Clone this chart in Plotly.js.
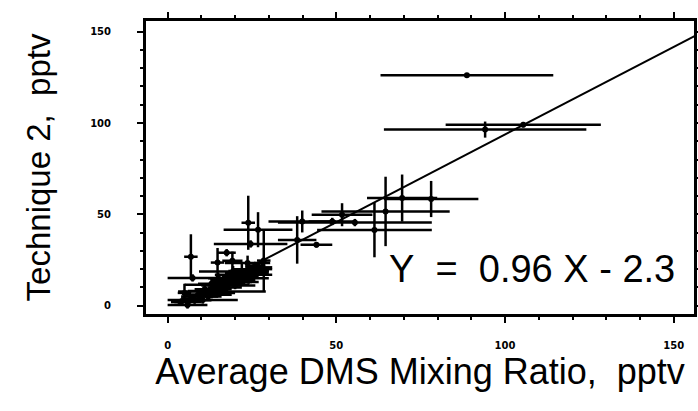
<!DOCTYPE html>
<html>
<head>
<meta charset="utf-8">
<script src="https://cdn.plot.ly/plotly-3.0.1.min.js"></script>
<style>html,body{margin:0;padding:0;background:#fff;}#chart{width:698px;height:411px;}</style>
</head>
<body>
<div id="chart"></div>
<script>
// Average DMS mixing ratio (pptv) vs Technique 2 (pptv)
const avgDMS = [88.7, 94.1, 105.4,
  69.5, 78.1, 64.6, 61.3, 55.5, 51.7, 48.8, 39.9, 38.4, 44.1,
  26.8, 23.9, 24.6, 6.9, 7.4, 19.4, 14.6, 16.1, 10.4, 5.9, 23.7, 14.8, 19.2, 28.5, 17.5,
  11, 13, 17, 18, 20, 21, 22, 24, 25, 27, 15, 9, 7, 4, 5, 26, 23, 12,
  12, 14, 16, 18, 19, 21, 22, 23, 24, 25, 26, 20, 17, 13, 8, 10, 15, 27, 28, 6];
const technique2 = [126.2, 96.4, 99.1,
  58.9, 58.4, 51.6, 41.5, 45.5, 49.8, 46.1, 46.1, 36.0, 33.3,
  41.6, 45.4, 33.8, 26.8, 15.2, 18.7, 11.4, 7.7, 3.1, 0.4, 23.4, 23.6, 24.6, 24.7, 29,
  9, 12, 14, 12, 16, 14, 19, 20, 17, 21, 15, 6, 4, 2, 7, 22, 16, 5,
  8, 9, 11, 15, 13, 17, 13, 18, 15, 19, 18, 11, 10, 6, 3, 5, 7, 19, 20, 2];
const avgDMSErr = [25.6, 30, 23,
  10.4, 14, 19, 17, 22.8, 9, 7, 10, 5.7, 4.7,
  10.2, 2, 10.9, 2, 7.4, 10.1, 9.6, 13, 10.4, 5.9, 6.7, 2, 3, 2, 2.7,
  3, 4, 4, 5, 4, 5, 4, 5, 6, 4, 3, 4, 3, 3, 2, 3, 4, 3,
  6, 5, 6, 5, 6, 7, 5, 6, 6, 5, 4, 6, 5, 6, 5, 6, 5, 3, 3, 4];
const technique2Err = [0.8, 4.4, 1.5,
  12.9, 9.9, 19, 15, 2, 6.3, 2, 6, 13, 1.5,
  9.6, 14.8, 2, 12.3, 2, 3, 3, 2, 2, 2, 4, 8, 5, 17, 2,
  3, 3, 3, 2, 3, 3, 4, 3, 3, 3, 3, 3, 2, 2, 5, 2, 2, 2,
  2, 2, 3, 2, 2, 3, 2, 2, 3, 2, 2, 2, 2, 2, 2, 2, 2, 2, 3, 2];

// Regression fit: Y = 0.96 X - 2.3
const fitSlope = 0.96;
const fitIntercept = -2.3;
const fitX = [3, 156.3];
const fitY = fitX.map(v => fitSlope * v + fitIntercept);

const xTickVals = [0, 50, 100, 150];
const yTickVals = [0, 50, 100, 150];
const xRange = [-6.7, 156.3];
const yRange = [-5.1, 156.4];

const NB = '\u00A0';
const traces = [
  {
    x: avgDMS, y: technique2, type: 'scatter', mode: 'markers',
    marker: {color: '#000', size: 6},
    error_x: {type: 'data', array: avgDMSErr, visible: true, color: '#000', thickness: 2.5, width: 0},
    error_y: {type: 'data', array: technique2Err, visible: true, color: '#000', thickness: 2.5, width: 0},
    showlegend: false, hoverinfo: 'x+y'
  },
  {
    x: fitX, y: fitY, type: 'scatter', mode: 'lines',
    line: {color: '#000', width: 2}, showlegend: false, hoverinfo: 'skip'
  }
];

const tickFont = {family: 'DejaVu Sans', size: 10, color: '#000', weight: 'bold'};
const axisCommon = {
  showline: true, linecolor: '#000', linewidth: 2, mirror: 'ticks',
  ticks: 'outside', ticklen: 6, tickwidth: 2, tickcolor: '#000',
  showgrid: false, zeroline: false, tickfont: tickFont,
  minor: {dtick: 10, ticks: 'outside', ticklen: 3, tickwidth: 2, tickcolor: '#000', showgrid: false}
};

const layout = {
  width: 698, height: 411,
  margin: {l: 145, r: 3, t: 20, b: 96},
  paper_bgcolor: '#fff', plot_bgcolor: '#fff',
  xaxis: Object.assign({}, axisCommon, {
    range: xRange, tickvals: xTickVals, ticklabelstandoff: 14,
    title: {text: 'Average DMS Mixing Ratio,' + NB + NB + 'pptv', font: {family: 'Liberation Sans', size: 36, color: '#000'}, standoff: 7}
  }),
  yaxis: Object.assign({}, axisCommon, {
    range: yRange, tickvals: yTickVals, ticklabelstandoff: 24,
    title: {text: NB + NB + 'Technique 2,' + NB + NB + 'pptv', font: {family: 'Liberation Sans', size: 33, color: '#000'}, standoff: 30}
  }),
  shapes: [{type: 'rect', xref: 'paper', yref: 'paper', x0: 0, x1: 1, y0: 0, y1: 1, line: {color: '#000', width: 2}, layer: 'above'}],
  annotations: [{
    xref: 'paper', yref: 'paper', x: 0.967, y: 0.155, xanchor: 'right', yanchor: 'middle',
    text: 'Y' + NB + NB + '=' + NB + NB + '0.96 X - 2.3', showarrow: false,
    font: {family: 'Liberation Sans', size: 38, color: '#000'}
  }]
};

Plotly.newPlot('chart', traces, layout, {displayModeBar: false, staticPlot: true});
</script>
</body>
</html>
